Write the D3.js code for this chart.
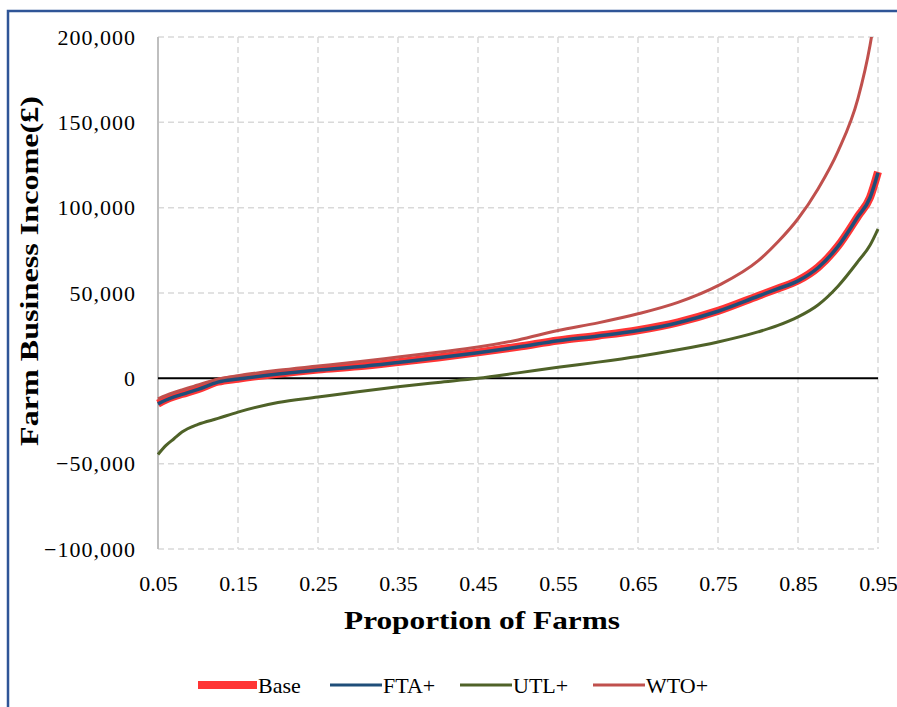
<!DOCTYPE html>
<html><head><meta charset="utf-8">
<script src="https://cdn.jsdelivr.net/npm/d3@7/dist/d3.min.js"></script>
<style>
body{margin:0;background:#fff;}
svg{display:block;}
text{font-family:"Liberation Serif","DejaVu Serif",serif;fill:#000;}
</style></head><body>
<svg id="chart" width="897" height="707"></svg>
<script>
const proportions = [0.05,0.06,0.07,0.08,0.10,0.125,0.15,0.20,0.25,0.30,0.35,0.40,0.45,0.50,0.55,0.60,0.65,0.70,0.75,0.80,0.825,0.85,0.875,0.90,0.925,0.94,0.95];
const baseValues = [-14800,-12500,-10700,-9200,-6300,-2000,-200,2700,5100,7000,9500,12200,15200,18500,22200,25000,28200,32800,39500,48300,52700,57300,65000,77500,95000,106000,121000];
const ftaValues  = [-15000,-12700,-10900,-9400,-6500,-2200,-400,2500,4900,6800,9300,12000,15000,18300,22000,24800,28000,32600,39300,48100,52500,57100,64800,77300,94800,105800,120500];
const utlValues  = [-44600,-39300,-35400,-31500,-27000,-23500,-19800,-14200,-11000,-7800,-4900,-2400,0,3200,6500,9500,12800,16700,21300,27200,31000,36000,43000,54000,68500,78000,87500];
const wtoValues  = [-12000,-10000,-8300,-6800,-3800,-500,1500,4700,7200,9700,12500,15300,18300,22500,28000,32500,37800,44500,54300,68800,80000,93500,111000,133000,164000,195000,225000];
const seriesNames = ["Base","FTA+","UTL+","WTO+"];
const seriesColors = ["#FF3535","#1F4E79","#4F6228","#C0504D"];
const seriesWidths = [8,3.5,3,3];
const xTicks = [0.05,0.15,0.25,0.35,0.45,0.55,0.65,0.75,0.85,0.95];
const yTicks = [-100000,-50000,0,50000,100000,150000,200000];

(function(){
const svg = d3.select("#chart");
const pL = 158, pR = 878, pT = 37, pB = 549;
const x = d3.scaleLinear().domain([0.05,0.95]).range([pL,pR]);
const y = d3.scaleLinear().domain([-100000,200000]).range([pB,pT]);

svg.append("path").attr("d","M8,707 L8,11 L897,11").attr("fill","none")
  .attr("stroke","#2F5597").attr("stroke-width",2.5);

const grid = svg.append("g");
grid.selectAll(".hg").data(yTicks.filter(d=>d!==0)).enter().append("line")
  .attr("x1",pL).attr("x2",pR).attr("y1",d=>y(d)).attr("y2",d=>y(d))
  .attr("stroke","#D9D9D9").attr("stroke-width",1.5).attr("stroke-dasharray","6,4");
grid.selectAll(".vg").data(xTicks.slice(1)).enter().append("line")
  .attr("x1",d=>x(d)).attr("x2",d=>x(d)).attr("y1",pT).attr("y2",pB)
  .attr("stroke","#D9D9D9").attr("stroke-width",1.5).attr("stroke-dasharray","6,4");

svg.append("line").attr("x1",pL).attr("x2",pL).attr("y1",pT).attr("y2",pB)
  .attr("stroke","#BFBFBF").attr("stroke-width",2);

const fmt = d3.format(",");
const yAxis = svg.append("g").attr("transform",`translate(${pL-22},0)`)
  .call(d3.axisLeft(y).tickValues(yTicks).tickSize(0).tickPadding(0).tickFormat(d=>fmt(d).replace("-","\u2212")));
yAxis.select(".domain").remove();
yAxis.selectAll("text").style("font-size","22px").style("font-family","Liberation Serif").attr("letter-spacing","1px").attr("fill","#000");

const xAxis = svg.append("g").attr("transform",`translate(0,${pB+26})`)
  .call(d3.axisBottom(x).tickValues(xTicks).tickSize(0).tickPadding(0).tickFormat(d3.format(".2f")));
xAxis.select(".domain").remove();
xAxis.selectAll("text").style("font-size","22px").style("font-family","Liberation Serif").attr("fill","#000");

svg.append("line").attr("x1",pL).attr("x2",pR).attr("y1",y(0)).attr("y2",y(0))
  .attr("stroke","#000").attr("stroke-width",2);

svg.append("clipPath").attr("id","clip").append("rect")
  .attr("x",pL-5).attr("y",pT).attr("width",pR-pL+10).attr("height",pB-pT);

const allSeries = [baseValues,ftaValues,utlValues,wtoValues];
const line = d3.line().x((d,i)=>x(proportions[i])).y(d=>y(d)).curve(d3.curveMonotoneX);
const order = [0,3,1,2];
const lines = svg.append("g").attr("clip-path","url(#clip)");
order.forEach(k=>{
  lines.append("path").datum(allSeries[k]).attr("d",line).attr("fill","none")
    .attr("stroke",seriesColors[k]).attr("stroke-width",seriesWidths[k])
    .attr("stroke-linejoin","round");
});

svg.append("text").attr("x",482).attr("y",629).attr("text-anchor","middle")
  .style("font-size","26px").style("font-weight","bold")
  .attr("textLength",276).attr("lengthAdjust","spacingAndGlyphs")
  .text("Proportion of Farms");
svg.append("text").attr("transform","translate(38,271) rotate(-90)").attr("text-anchor","middle")
  .style("font-size","26px").style("font-weight","bold")
  .attr("textLength",350).attr("lengthAdjust","spacingAndGlyphs")
  .text("Farm Business Income(£)");

const legendX = [198,330,460,593];
const lg = svg.append("g");
seriesNames.forEach((n,i)=>{
  const g = lg.append("g").attr("transform",`translate(${legendX[i]},685)`);
  if(i===0){
    g.append("rect").attr("x",0).attr("y",-4).attr("width",59).attr("height",8).attr("fill",seriesColors[0]);
  } else {
    g.append("line").attr("x1",0).attr("x2",52).attr("y1",0).attr("y2",0)
      .attr("stroke",seriesColors[i]).attr("stroke-width",3);
  }
  g.append("text").attr("x",i===0?60:53).attr("y",8).style("font-size","22px").text(n);
});
})();
</script></body></html>
